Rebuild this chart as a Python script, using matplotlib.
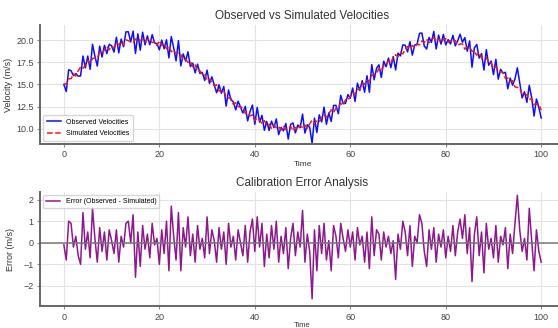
import numpy as np
import matplotlib
matplotlib.use("Agg")
import matplotlib.pyplot as plt

plt.rcParams['font.family'] = ['Liberation Sans', 'DejaVu Sans']

# time axis, 0..100 s every 0.5
time = np.linspace(0, 100, 201)

observed = [
    15.00, 14.20, 16.65, 16.55, 15.99, 16.24, 15.93, 15.96, 18.20, 16.87,
    18.20, 16.71, 19.52, 18.18, 17.07, 19.31, 18.09, 19.41, 18.47, 19.52,
    19.36, 18.64, 20.31, 18.56, 20.11, 19.24, 20.92, 20.93, 19.78, 21.01,
    18.49, 20.70, 18.85, 20.88, 19.46, 20.47, 19.47, 20.61, 19.68, 19.60,
    18.90, 19.99, 19.02, 20.03, 17.99, 20.39, 19.13, 17.66, 19.93, 17.09,
    18.44, 17.64, 18.68, 17.01, 17.39, 16.31, 17.28, 16.24, 16.35, 15.45,
    16.61, 15.11, 15.86, 14.96, 14.06, 14.96, 14.01, 14.77, 12.57, 14.38,
    13.25, 13.06, 12.14, 13.12, 12.45, 11.79, 12.54, 10.90, 11.96, 12.68,
    10.52, 12.41, 10.76, 11.52, 9.84, 10.83, 9.82, 10.87, 10.14, 11.12,
    9.36, 10.17, 9.78, 10.61, 8.85, 10.50, 10.67, 9.55, 10.44, 10.14,
    11.66, 9.53, 10.47, 10.17, 8.38, 11.21, 9.59, 11.58, 10.79, 12.45,
    10.52, 11.80, 10.84, 12.64, 12.65, 11.71, 13.78, 12.85, 12.88, 13.86,
    13.45, 14.60, 13.09, 15.14, 14.33, 15.43, 14.13, 15.98, 14.13, 17.23,
    15.53, 16.82, 17.21, 15.79, 17.62, 17.00, 17.97, 16.89, 18.14, 16.64,
    18.53, 18.22, 19.45, 19.41, 18.67, 19.82, 18.30, 19.43, 19.54, 20.75,
    20.79, 19.32, 18.99, 20.30, 19.74, 20.97, 18.99, 20.55, 19.54, 20.63,
    19.45, 20.05, 19.55, 20.53, 19.35, 19.91, 20.66, 19.75, 20.27, 18.74,
    19.89, 16.94, 19.12, 19.50, 17.97, 18.47, 16.62, 18.92, 17.16, 17.64,
    16.11, 17.83, 15.60, 16.71, 16.26, 16.37, 14.52, 15.72, 14.92, 15.62,
    16.87, 15.18, 13.48, 14.18, 12.99, 14.90, 13.52, 11.44, 13.36, 12.39,
    11.23,
]

simulated = [
    15.10, 15.00, 15.65, 15.65, 16.19, 15.94, 16.53, 16.96, 16.80, 17.17,
    17.70, 17.41, 17.92, 17.98, 17.97, 18.61, 18.49, 18.91, 19.27, 18.92,
    19.26, 19.14, 19.71, 19.46, 19.81, 19.44, 20.02, 19.93, 19.78, 19.71,
    20.09, 20.20, 19.95, 20.08, 19.76, 20.07, 20.17, 19.71, 19.78, 19.40,
    19.90, 19.39, 19.52, 19.03, 19.29, 18.69, 18.83, 18.46, 18.53, 18.39,
    17.74, 17.84, 17.48, 17.61, 16.99, 17.21, 16.48, 16.54, 16.15, 16.15,
    15.41, 15.61, 15.26, 14.86, 14.96, 14.26, 14.31, 14.27, 13.57, 13.48,
    13.45, 12.76, 12.94, 12.52, 12.45, 12.39, 11.74, 11.80, 11.46, 11.58,
    10.92, 11.21, 10.96, 10.62, 10.94, 10.43, 10.52, 10.07, 10.44, 10.12,
    10.26, 9.87, 10.28, 9.91, 10.05, 10.30, 9.77, 10.15, 9.94, 10.34,
    10.16, 10.43, 10.07, 10.57, 10.98, 10.61, 10.89, 10.78, 11.29, 11.55,
    11.32, 11.70, 12.14, 11.84, 12.35, 12.41, 12.88, 12.65, 13.28, 13.26,
    13.65, 14.10, 13.89, 14.44, 14.43, 15.13, 15.03, 15.48, 15.33, 16.03,
    16.13, 16.22, 16.81, 16.59, 17.12, 17.20, 17.67, 17.39, 18.04, 18.34,
    18.13, 18.52, 18.45, 18.91, 19.27, 19.02, 19.40, 19.13, 19.54, 19.45,
    19.89, 19.72, 20.09, 19.70, 20.04, 20.27, 19.89, 20.15, 19.74, 20.03,
    20.15, 19.75, 19.95, 19.73, 19.95, 19.41, 19.56, 19.55, 18.97, 19.24,
    19.19, 18.74, 18.72, 18.30, 18.57, 17.97, 18.02, 18.02, 17.46, 17.44,
    16.81, 17.03, 16.50, 16.41, 16.36, 15.67, 15.72, 15.32, 15.42, 14.72,
    14.67, 14.58, 13.88, 13.98, 13.79, 13.30, 13.42, 12.74, 12.76, 12.79,
    12.13,
]

error = np.array(observed) - np.array(simulated)

fig = plt.figure(figsize=(5.58, 3.28), dpi=100)
ax1 = fig.add_axes([0.0717, 0.561, 0.941, 0.363])
ax2 = fig.add_axes([0.0717, 0.066, 0.941, 0.349])

for ax in (ax1, ax2):
    ax.grid(True, color='#e3e3e3', linewidth=0.8)
    ax.set_axisbelow(True)
    ax.spines['top'].set_visible(False)
    ax.spines['right'].set_visible(False)
    ax.spines['left'].set_color('#666666')
    ax.spines['bottom'].set_color('#666666')
    ax.spines['left'].set_linewidth(1.4)
    ax.spines['bottom'].set_linewidth(1.4)
    ax.tick_params(labelsize=6.5, length=2.5, width=0.8, color='#888888',
                   labelcolor='#444444', pad=2)
    ax.set_xlim(-5, 105)
    ax.set_xticks([0, 20, 40, 60, 80, 100])

ax1.plot(time, observed, color='#1010ee', lw=1.1, label='Observed Velocities')
ax1.plot(time, simulated, color='#ee1a1a', ls='--', lw=1.1, label='Simulated Velocities')
ax1.set_ylim(8.3, 21.7)
ax1.set_yticks([10.0, 12.5, 15.0, 17.5, 20.0])
ax1.set_title('Observed vs Simulated Velocities', fontsize=8.5, color='#333333', pad=4)
ax1.set_xlabel('Time', fontsize=6, color='#333333', labelpad=1)
ax1.set_ylabel('Velocity (m/s)', fontsize=6.5, color='#333333', labelpad=2)
ax1.legend(loc='lower left', fontsize=5, handlelength=2, frameon=True,
           edgecolor='#cccccc', borderpad=0.5, labelspacing=0.6)

ax2.plot(time, error, color='#8b1a8b', lw=1.1, label='Error (Observed - Simulated)')
ax2.axhline(0, color='#777777', lw=1.1)
ax2.set_ylim(-2.95, 2.36)
ax2.set_yticks([-2, -1, 0, 1, 2])
ax2.set_title('Calibration Error Analysis', fontsize=8.5, color='#333333', pad=4)
ax2.set_xlabel('Time', fontsize=5.5, color='#333333', labelpad=0)
ax2.set_ylabel('Error (m/s)', fontsize=6.5, color='#333333', labelpad=6)
ax2.legend(loc='upper left', fontsize=5, handlelength=2, frameon=True,
           edgecolor='#cccccc', borderpad=0.4)

fig.savefig('out.png', dpi=100)
